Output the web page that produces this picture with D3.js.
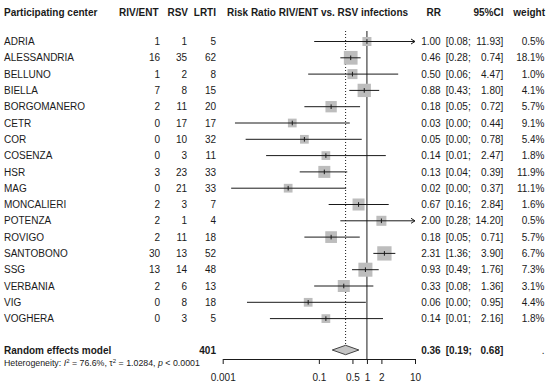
<!DOCTYPE html>
<html>
<head>
<meta charset="utf-8">
<script src="https://cdn.jsdelivr.net/npm/d3@7/dist/d3.min.js"></script>
<style>
  body { margin: 0; background: #fff; }
  svg { display: block; font-family: "Liberation Sans", Arial, sans-serif; }
</style>
</head>
<body>
<svg id="chart" width="550" height="386"></svg>
<script>
// study data
const centers = ["ADRIA", "ALESSANDRIA", "BELLUNO", "BIELLA", "BORGOMANERO", "CETR", "COR", "COSENZA",
  "HSR", "MAG", "MONCALIERI", "POTENZA", "ROVIGO", "SANTOBONO", "SSG", "VERBANIA", "VIG", "VOGHERA"];
const rivEnt = [1, 16, 1, 7, 2, 0, 0, 0, 3, 0, 2, 2, 2, 30, 13, 2, 0, 0];
const rsv = [1, 35, 2, 8, 11, 17, 10, 3, 23, 21, 3, 1, 11, 13, 14, 6, 8, 3];
const lrti = [5, 62, 8, 15, 20, 17, 32, 11, 33, 33, 7, 4, 18, 52, 48, 13, 18, 5];
const rr = [1.00, 0.46, 0.50, 0.88, 0.18, 0.028, 0.05, 0.14, 0.13, 0.023, 0.67, 2.00, 0.18, 2.31, 0.93, 0.33, 0.06, 0.14];
const ciLow = [0.08, 0.28, 0.06, 0.43, 0.05, 0.0018, 0.003, 0.008, 0.04, 0.0015, 0.16, 0.28, 0.05, 1.36, 0.49, 0.08, 0.0032, 0.0096];
const ciHigh = [11.93, 0.74, 4.47, 1.80, 0.72, 0.44, 0.78, 2.47, 0.39, 0.37, 2.84, 14.20, 0.71, 3.90, 1.76, 1.36, 0.95, 2.16];
const weightRandom = [0.5, 18.1, 1.0, 4.1, 5.7, 9.1, 5.4, 1.8, 11.9, 11.1, 1.6, 0.5, 5.7, 6.7, 7.3, 3.1, 4.4, 1.8];
// box weights (estimated from square sizes)
const boxWeight = [8.1, 18.8, 10, 17.7, 12.8, 7.6, 7.6, 7.6, 14.4, 7.6, 14.4, 10, 13.7, 20.4, 19.6, 14.4, 7.6, 7.6];

// pooled
const pooled = { label: "Random effects model", total: 401, rr: 0.36, low: 0.19, high: 0.68 };
const hetero = { i2: "76.6%", tau2: "1.0284", p: "0.0001" };
const tickValues = [0.001, 0.1, 0.5, 1, 2, 10];

const svg = d3.select("#chart");
const ink = "#1a1a1a";

const x = d3.scaleLog().domain([0.001, 10]).range([222.7, 415]);
const y = d3.scaleLinear().domain([0, centers.length - 1]).range([41.5, 318.6]);
const boxSide = d3.scaleSqrt().domain([0, d3.max(boxWeight)]).range([0, 14.3]);
const yPooled = 350;
const yAxis = 359;
const fmt = d3.format(".2f");

// header
const header = svg.append("g").attr("font-size", 10).attr("font-weight", "bold").attr("fill", ink);
[
  ["Participating center", 4, "start"],
  ["RIV/ENT", 158.5, "end"],
  ["RSV", 188, "end"],
  ["LRTI", 216, "end"],
  ["Risk Ratio RIV/ENT vs. RSV infections", 227, "start"],
  ["RR", 441, "end"],
  ["95%CI", 503.5, "end"],
  ["weight", 545, "end"]
].forEach(([t, xp, anchor]) => {
  header.append("text").attr("x", xp).attr("y", 15.5).attr("text-anchor", anchor).text(t);
});

// reference lines
svg.append("line")
  .attr("x1", x(1)).attr("x2", x(1))
  .attr("y1", 31).attr("y2", yAxis)
  .attr("stroke", ink).attr("stroke-width", 1);
svg.append("line")
  .attr("x1", x(pooled.rr)).attr("x2", x(pooled.rr))
  .attr("y1", 31).attr("y2", yPooled - 4.7)
  .attr("stroke", ink).attr("stroke-width", 1)
  .attr("stroke-dasharray", "1,2");

// study rows
const rows = svg.append("g").attr("font-size", 10).attr("fill", ink);
centers.forEach((c, i) => {
  const yy = y(i);
  const base = yy + 3.6;
  rows.append("text").attr("x", 4).attr("y", base).text(c);
  rows.append("text").attr("x", 160).attr("y", base).attr("text-anchor", "end").text(rivEnt[i]);
  rows.append("text").attr("x", 187).attr("y", base).attr("text-anchor", "end").text(rsv[i]);
  rows.append("text").attr("x", 216).attr("y", base).attr("text-anchor", "end").text(lrti[i]);
  rows.append("text").attr("x", 440.7).attr("y", base).attr("text-anchor", "end").text(fmt(rr[i]));
  rows.append("text").attr("x", 445.7).attr("y", base).text("[" + fmt(ciLow[i]) + ";");
  rows.append("text").attr("x", 503.3).attr("y", base).attr("text-anchor", "end").text(fmt(ciHigh[i]) + "]");
  rows.append("text").attr("x", 544.5).attr("y", base).attr("text-anchor", "end").text(weightRandom[i].toFixed(1) + "%");

  // square
  const s = boxSide(boxWeight[i]);
  svg.append("rect")
    .attr("x", x(rr[i]) - s / 2).attr("y", yy - s / 2)
    .attr("width", s).attr("height", s)
    .attr("fill", "#bdbdbd");

  // CI line (clipped at axis limits)
  const [d0, d1] = x.domain();
  const lo = Math.max(ciLow[i], d0);
  const hi = Math.min(ciHigh[i], d1);
  svg.append("line")
    .attr("x1", x(lo)).attr("x2", x(hi))
    .attr("y1", yy).attr("y2", yy)
    .attr("stroke", ink).attr("stroke-width", 1);
  if (ciHigh[i] > d1) {
    const xe = x(d1);
    svg.append("path")
      .attr("d", `M${xe - 4},${yy - 2.5}L${xe},${yy}L${xe - 4},${yy + 2.5}`)
      .attr("fill", "none").attr("stroke", ink).attr("stroke-width", 1);
  }

  // point estimate tick
  svg.append("line")
    .attr("x1", x(rr[i])).attr("x2", x(rr[i]))
    .attr("y1", yy - 2.3).attr("y2", yy + 2.3)
    .attr("stroke", ink).attr("stroke-width", 1);
});

// pooled row
const pb = yPooled + 3.6;
const bold = svg.append("g").attr("font-size", 10).attr("font-weight", "bold").attr("fill", ink);
bold.append("text").attr("x", 4).attr("y", pb).text(pooled.label);
bold.append("text").attr("x", 216).attr("y", pb).attr("text-anchor", "end").text(pooled.total);
bold.append("text").attr("x", 440.7).attr("y", pb).attr("text-anchor", "end").text(fmt(pooled.rr));
bold.append("text").attr("x", 445.7).attr("y", pb).text("[" + fmt(pooled.low) + ";");
bold.append("text").attr("x", 503.3).attr("y", pb).attr("text-anchor", "end").text(fmt(pooled.high) + "]");
svg.append("text").attr("x", 544.5).attr("y", pb).attr("text-anchor", "end")
  .attr("font-size", 10).attr("fill", ink).text(".");

svg.append("path")
  .attr("d", `M${x(pooled.low)},${yPooled}L${x(pooled.rr)},${yPooled - 4.7}L${x(pooled.high)},${yPooled}L${x(pooled.rr)},${yPooled + 4.7}Z`)
  .attr("fill", "#c4c4c4").attr("stroke", "#444").attr("stroke-width", 1);

// heterogeneity
const het = svg.append("text").attr("x", 4).attr("y", 366).attr("font-size", 8.8).attr("fill", ink);
het.append("tspan").text("Heterogeneity: ");
het.append("tspan").attr("font-style", "italic").text("I");
het.append("tspan").attr("font-size", 6).attr("dy", -3.5).text("2");
het.append("tspan").attr("dy", 3.5).text(" = " + hetero.i2 + ", τ");
het.append("tspan").attr("font-size", 6).attr("dy", -3.5).text("2");
het.append("tspan").attr("dy", 3.5).text(" = " + hetero.tau2 + ", ");
het.append("tspan").attr("font-style", "italic").text("p");
het.append("tspan").text(" < " + hetero.p);

// axis
const axis = svg.append("g")
  .attr("transform", `translate(0,${yAxis})`)
  .call(d3.axisBottom(x).tickValues(tickValues).tickFormat(d3.format("~g"))
    .tickSize(5).tickSizeOuter(0).tickPadding(10));
axis.select(".domain").attr("stroke", ink);
axis.selectAll(".tick line").attr("stroke", ink);
axis.selectAll(".tick text")
  .attr("font-size", 10).attr("fill", ink)
  .attr("font-family", "'Liberation Sans', Arial, sans-serif");
</script>
</body>
</html>
